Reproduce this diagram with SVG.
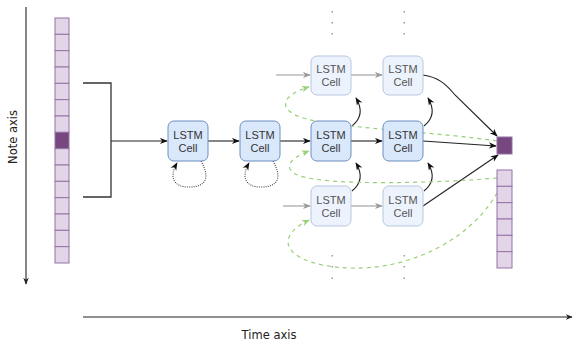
<svg xmlns="http://www.w3.org/2000/svg" width="574" height="345" viewBox="0 0 574 345">
  <style>
    .cell { fill: #dae8fc; stroke: #6c8ebf; stroke-width: 1; }
    .cell.faded { fill: #edf3fd; stroke: #b6c7df; }
    .lbl { font-family: "Liberation Sans", Arial, sans-serif; font-size: 11px; fill: #333; text-anchor: middle; }
    .lbl.faded { fill: #555; }
    .axis-lbl { font-family: "DejaVu Sans", Verdana, sans-serif; font-size: 11.5px; fill: #222; text-anchor: middle; }
    .pcell { fill: #e1d5e7; stroke: #9673a6; stroke-width: 1; }
    .pcell.on { fill: #76487f; }
    .dot { fill: #999; }
    .edge { fill: none; stroke: #222; stroke-width: 1.1; }
    .edge.gray { stroke: #999; }
    .edge.loop { stroke: #444; stroke-dasharray: 1 1.2; }
    .edge.green { stroke: #97d077; stroke-width: 1.2; stroke-dasharray: 4 4; }
    .axis { fill: none; stroke: #222; stroke-width: 1.1; }
  </style>
  <defs>
    <marker id="arr" viewBox="0 0 10 8" refX="9" refY="4" markerWidth="8" markerHeight="7" orient="auto" markerUnits="userSpaceOnUse">
      <path d="M0,0 L10,4 L0,8 L3,4 z" fill="#111"/>
    </marker>
    <marker id="arrGray" viewBox="0 0 10 8" refX="9" refY="4" markerWidth="8" markerHeight="7" orient="auto" markerUnits="userSpaceOnUse">
      <path d="M0,0 L10,4 L0,8 L3,4 z" fill="#999"/>
    </marker>
    <marker id="arrGreen" viewBox="0 0 10 8" refX="9" refY="4" markerWidth="8" markerHeight="7" orient="auto" markerUnits="userSpaceOnUse">
      <path d="M0,0 L10,4 L0,8 L3,4 z" fill="#97d077"/>
    </marker>
    <marker id="axisHead" viewBox="0 0 10 8" refX="9" refY="4" markerWidth="7" markerHeight="6" orient="auto" markerUnits="userSpaceOnUse">
      <path d="M0,0 L10,4 L0,8 L3,4 z" fill="#222"/>
    </marker>
  </defs>

  <!-- axes -->
  <g id="note-axis">
    <line class="axis" x1="26" y1="7" x2="26" y2="284" marker-end="url(#axisHead)"/>
    <text class="axis-lbl" transform="translate(17,137) rotate(-90)">Note axis</text>
  </g>
  <g id="time-axis">
    <line class="axis" x1="83" y1="317" x2="572" y2="317" marker-end="url(#axisHead)"/>
    <text class="axis-lbl" x="269" y="339">Time axis</text>
  </g>

  <!-- connectors (drawn first so cells sit on top) -->
  <g id="connectors">
    <!-- sequence flow -->
    <line class="edge" x1="111" y1="141" x2="167" y2="141" marker-end="url(#arr)"/>
    <line class="edge" x1="208" y1="141" x2="239" y2="141" marker-end="url(#arr)"/>
    <line class="edge" x1="280" y1="141" x2="310" y2="141" marker-end="url(#arr)"/>
    <line class="edge" x1="351" y1="141" x2="382" y2="141" marker-end="url(#arr)"/>
    <line class="edge gray" x1="276" y1="75" x2="310" y2="75" marker-end="url(#arrGray)"/>
    <line class="edge gray" x1="351" y1="75" x2="382" y2="75" marker-end="url(#arrGray)"/>
    <line class="edge gray" x1="283" y1="206" x2="310" y2="206" marker-end="url(#arrGray)"/>
    <line class="edge gray" x1="351" y1="206" x2="382" y2="206" marker-end="url(#arrGray)"/>

    <!-- recurrent self-loops -->
    <path class="edge loop" d="M201 161 C211 179 205 187 189 187 C173 187 169 177 177 163" marker-end="url(#arr)"/>
    <path class="edge loop" d="M273 161 C283 179 277 187 261 187 C245 187 241 177 249 163" marker-end="url(#arr)"/>

    <!-- vertical links between stacked cells -->
    <path class="edge" d="M352 126 C362 118 362 108 356 98" marker-end="url(#arr)"/>
    <path class="edge" d="M352 191 C362 183 362 173 356 163" marker-end="url(#arr)"/>
    <path class="edge" d="M424 126 C434 118 434 108 428 98" marker-end="url(#arr)"/>
    <path class="edge" d="M424 191 C434 183 434 173 428 163" marker-end="url(#arr)"/>

    <!-- outputs to predicted note -->
    <path class="edge" d="M423 75 C438 77 446 84 455 95 L497 136" marker-end="url(#arr)"/>
    <line class="edge" x1="423" y1="141" x2="496" y2="146" marker-end="url(#arr)"/>
    <line class="edge" x1="423" y1="206" x2="498" y2="155" marker-end="url(#arr)"/>

    <!-- feedback of output into next step -->
    <path class="edge green" d="M497 141 C440 132 330 128 300 117 C276 108 284 94 309 87" marker-end="url(#arrGreen)"/>
    <path class="edge green" d="M497 178 C440 183 330 186 300 176 C281 169 290 158 309 151" marker-end="url(#arrGreen)"/>
    <path class="edge green" d="M497 193 C470 240 410 270 350 268 C290 266 268 240 309 220" marker-end="url(#arrGreen)"/>
  </g>

  <!-- input piano-roll column -->
  <g id="input-column">
    <rect class="pcell" x="55" y="18" width="14" height="16.33"/>
    <rect class="pcell" x="55" y="34.33" width="14" height="16.33"/>
    <rect class="pcell" x="55" y="50.67" width="14" height="16.33"/>
    <rect class="pcell" x="55" y="67" width="14" height="16.33"/>
    <rect class="pcell" x="55" y="83.33" width="14" height="16.33"/>
    <rect class="pcell" x="55" y="99.67" width="14" height="16.33"/>
    <rect class="pcell" x="55" y="116" width="14" height="16.33"/>
    <rect class="pcell on" x="55" y="132.33" width="14" height="16.33"/>
    <rect class="pcell" x="55" y="148.67" width="14" height="16.33"/>
    <rect class="pcell" x="55" y="165" width="14" height="16.33"/>
    <rect class="pcell" x="55" y="181.33" width="14" height="16.33"/>
    <rect class="pcell" x="55" y="197.67" width="14" height="16.33"/>
    <rect class="pcell" x="55" y="214" width="14" height="16.33"/>
    <rect class="pcell" x="55" y="230.33" width="14" height="16.33"/>
    <rect class="pcell" x="55" y="246.67" width="14" height="16.33"/>
  </g>

  <g id="window-bracket">
    <path class="edge" d="M83 83 H111 V197 H83" style="stroke:#333;stroke-width:1.3"/>
  </g>

  <!-- LSTM cells -->
  <g id="lstm-t1">
    <rect class="cell" x="168" y="121" width="40" height="40" rx="6"/>
    <text class="lbl" x="188" y="139">LSTM</text>
    <text class="lbl" x="188" y="152">Cell</text>
  </g>
  <g id="lstm-t2">
    <rect class="cell" x="240" y="121" width="40" height="40" rx="6"/>
    <text class="lbl" x="260" y="139">LSTM</text>
    <text class="lbl" x="260" y="152">Cell</text>
  </g>
  <g id="lstm-upper-a">
    <rect class="cell faded" x="311" y="56" width="40" height="39" rx="6"/>
    <text class="lbl faded" x="331" y="73">LSTM</text>
    <text class="lbl faded" x="331" y="86">Cell</text>
  </g>
  <g id="lstm-upper-b">
    <rect class="cell faded" x="383" y="56" width="40" height="39" rx="6"/>
    <text class="lbl faded" x="403" y="73">LSTM</text>
    <text class="lbl faded" x="403" y="86">Cell</text>
  </g>
  <g id="lstm-mid-a">
    <rect class="cell" x="311" y="121" width="40" height="40" rx="6"/>
    <text class="lbl" x="331" y="139">LSTM</text>
    <text class="lbl" x="331" y="152">Cell</text>
  </g>
  <g id="lstm-mid-b">
    <rect class="cell" x="383" y="121" width="40" height="40" rx="6"/>
    <text class="lbl" x="403" y="139">LSTM</text>
    <text class="lbl" x="403" y="152">Cell</text>
  </g>
  <g id="lstm-lower-a">
    <rect class="cell faded" x="311" y="186" width="40" height="40" rx="6"/>
    <text class="lbl faded" x="331" y="204">LSTM</text>
    <text class="lbl faded" x="331" y="217">Cell</text>
  </g>
  <g id="lstm-lower-b">
    <rect class="cell faded" x="383" y="186" width="40" height="40" rx="6"/>
    <text class="lbl faded" x="403" y="204">LSTM</text>
    <text class="lbl faded" x="403" y="217">Cell</text>
  </g>

  <!-- continuation dots -->
  <g id="ellipsis-top">
    <rect class="dot" x="331.5" y="11" width="1.5" height="1.5"/>
    <rect class="dot" x="331.5" y="22" width="1.5" height="1.5"/>
    <rect class="dot" x="331.5" y="33" width="1.5" height="1.5"/>
    <rect class="dot" x="403.5" y="11" width="1.5" height="1.5"/>
    <rect class="dot" x="403.5" y="22" width="1.5" height="1.5"/>
    <rect class="dot" x="403.5" y="33" width="1.5" height="1.5"/>
  </g>
  <g id="ellipsis-bottom">
    <rect class="dot" x="331.5" y="255" width="1.5" height="1.5"/>
    <rect class="dot" x="331.5" y="266" width="1.5" height="1.5"/>
    <rect class="dot" x="331.5" y="277.5" width="1.5" height="1.5"/>
    <rect class="dot" x="403.5" y="255" width="1.5" height="1.5"/>
    <rect class="dot" x="403.5" y="266" width="1.5" height="1.5"/>
    <rect class="dot" x="403.5" y="277.5" width="1.5" height="1.5"/>
  </g>

  <!-- output note and output column -->
  <g id="output-note">
    <rect class="pcell on" x="497" y="137" width="15" height="17"/>
  </g>
  <g id="output-column">
    <rect class="pcell" x="497" y="170" width="15" height="16.33"/>
    <rect class="pcell" x="497" y="186.33" width="15" height="16.33"/>
    <rect class="pcell" x="497" y="202.67" width="15" height="16.33"/>
    <rect class="pcell" x="497" y="219" width="15" height="16.33"/>
    <rect class="pcell" x="497" y="235.33" width="15" height="16.33"/>
    <rect class="pcell" x="497" y="251.67" width="15" height="16.33"/>
  </g>
</svg>
